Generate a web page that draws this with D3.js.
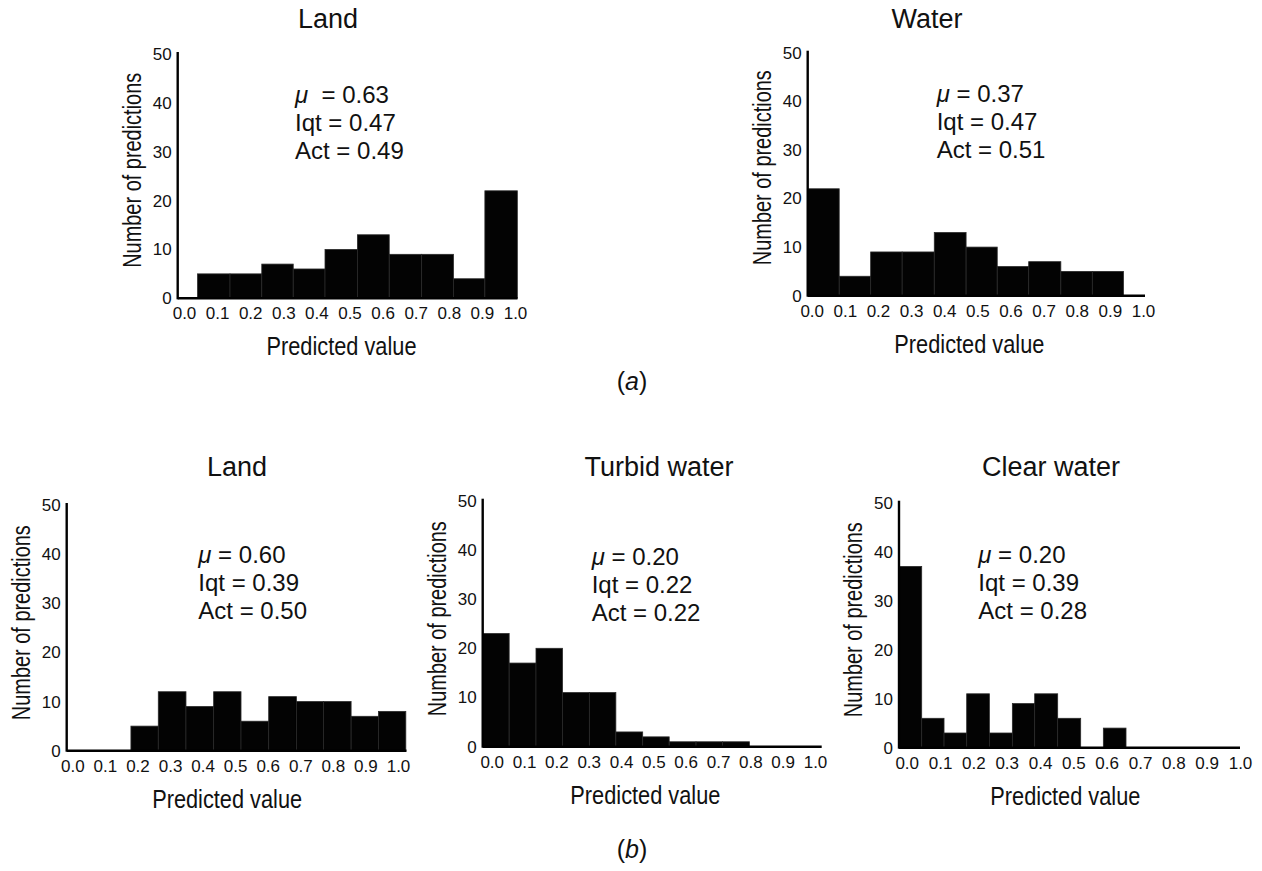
<!DOCTYPE html>
<html>
<head>
<meta charset="utf-8">
<script src="https://cdn.jsdelivr.net/npm/d3@7"></script>
<style>
  html, body { margin: 0; padding: 0; background: #fff; }
  svg { display: block; font-family: "Liberation Sans", Arial, sans-serif; }
</style>
</head>
<body>
<svg id="chart" width="1262" height="871"></svg>
<script>
// ---------------- data ----------------
const panelTitles = ["Land", "Water", "Land", "Turbid water", "Clear water"];
const xTickValues = [0, 0.1, 0.2, 0.3, 0.4, 0.5, 0.6, 0.7, 0.8, 0.9, 1.0];
const yTickValues = [0, 10, 20, 30, 40, 50];

// histogram counts (10 bins each)
const landA_counts   = [5, 5, 7, 6, 10, 13, 9, 9, 4, 22];
const waterA_counts  = [22, 4, 9, 9, 13, 10, 6, 7, 5, 5];
const landB_counts   = [5, 12, 9, 12, 6, 11, 10, 10, 7, 8];
const turbidB_counts = [23, 17, 20, 11, 11, 3, 2, 1, 1, 1];
const clearB_counts  = [37, 6, 3, 11, 3, 9, 11, 6, 0, 4];

// bin edges (predicted value)
const landA_edges   = [0.041, 0.139, 0.235, 0.330, 0.426, 0.524, 0.620, 0.718, 0.814, 0.909, 1.007];
const waterA_edges  = [-0.012, 0.083, 0.178, 0.273, 0.370, 0.466, 0.560, 0.655, 0.752, 0.847, 0.941];
const landB_edges   = [0.180, 0.264, 0.349, 0.434, 0.518, 0.603, 0.688, 0.771, 0.856, 0.940, 1.024];
const turbidB_edges = [-0.028, 0.054, 0.137, 0.219, 0.302, 0.384, 0.467, 0.549, 0.632, 0.714, 0.797];
const clearB_edges  = [-0.023, 0.045, 0.112, 0.180, 0.248, 0.317, 0.384, 0.453, 0.522, 0.590, 0.658];

// statistics
const statMu  = ["0.63", "0.37", "0.60", "0.20", "0.20"];
const statIqt = ["0.47", "0.47", "0.39", "0.22", "0.39"];
const statAct = ["0.49", "0.51", "0.50", "0.22", "0.28"];
const muSpacer = [" \u00a0= ", " = ", " = ", " = ", " = "];

const subLabels = ["a", "b"];

const countsList = [landA_counts, waterA_counts, landB_counts, turbidB_counts, clearB_counts];
const edgesList  = [landA_edges, waterA_edges, landB_edges, turbidB_edges, clearB_edges];

// ---------------- layout ----------------
const layout = [
  { axisX: 177.7, y0: 298.3, y50: 54.0,  x0: 184.0, x1: 515.0, axisEnd: 517.5, statX: 295.0, statTop: 195.6, titleX: 328, titleY: 28 },
  { axisX: 807.7, y0: 295.7, y50: 52.7,  x0: 811.7, x1: 1143.0, axisEnd: 1145.0, statX: 936.7, statTop: 194.0, titleX: 927, titleY: 28 },
  { axisX: 66.7,  y0: 750.7, y50: 505.0, x0: 72.3,  x1: 398.0, axisEnd: 406.5, statX: 198.3, statTop: 187.4, titleX: 237, titleY: 476 },
  { axisX: 482.7, y0: 746.7, y50: 500.7, x0: 491.7, x1: 815.0, axisEnd: 821.7, statX: 591.7, statTop: 181.7, titleX: 659, titleY: 476 },
  { axisX: 899.0, y0: 747.7, y50: 502.7, x0: 906.7, x1: 1240.0, axisEnd: 1240.0, statX: 978.3, statTop: 184.4, titleX: 1051, titleY: 476 }
];
const subLayout = [ { x: 632, y: 390 }, { x: 632, y: 858 } ];

const svg = d3.select("#chart");
svg.append("rect").attr("width", 1262).attr("height", 871).attr("fill", "#fff");

layout.forEach((L, i) => {
  const g = svg.append("g");
  const x = d3.scaleLinear().domain([0, 1]).range([L.x0, L.x1]);
  const y = d3.scaleLinear().domain([0, 50]).range([L.y0, L.y50]);

  const counts = countsList[i];
  const edges = edgesList[i];
  const bins = counts.map((c, k) => ({ x0: edges[k], x1: edges[k + 1], c }));

  // bars
  g.selectAll("rect.bar").data(bins).enter().append("rect")
    .attr("class", "bar")
    .attr("x", d => x(d.x0))
    .attr("width", d => x(d.x1) - x(d.x0))
    .attr("y", d => y(d.c))
    .attr("height", d => y(0) - y(d.c))
    .attr("fill", "#030303")
    .attr("stroke", "#2a2a2a")
    .attr("stroke-width", 0.8);

  // axis lines
  g.append("line").attr("x1", L.axisX).attr("x2", L.axisX)
    .attr("y1", y(0) + 1).attr("y2", y(50) - 2)
    .attr("stroke", "#000").attr("stroke-width", 2.4);
  g.append("line").attr("x1", L.axisX).attr("x2", L.axisEnd)
    .attr("y1", y(0)).attr("y2", y(0))
    .attr("stroke", "#000").attr("stroke-width", 2.4);

  // y axis tick labels
  const yAxis = d3.axisLeft(y).tickValues(yTickValues).tickSize(0).tickPadding(0).tickFormat(d3.format("d"));
  const gy = g.append("g").attr("transform", `translate(${L.axisX - 6},0)`).call(yAxis);
  gy.select(".domain").remove();
  gy.selectAll("text").attr("font-size", 17).attr("fill", "#111")
    .attr("font-family", "'Liberation Sans', Arial, sans-serif");

  // x axis tick labels
  const xAxis = d3.axisBottom(x).tickValues(xTickValues).tickSize(0).tickPadding(0).tickFormat(d3.format(".1f"));
  const gx = g.append("g").attr("transform", `translate(0,${L.y0 + 9})`).call(xAxis);
  gx.select(".domain").remove();
  gx.selectAll("text").attr("font-size", 17).attr("fill", "#111")
    .attr("font-family", "'Liberation Sans', Arial, sans-serif");

  // axis labels
  g.append("text")
    .attr("x", x(0.5) - 8).attr("y", L.y0 + 57)
    .attr("text-anchor", "middle")
    .attr("font-size", 25)
    .attr("textLength", 150).attr("lengthAdjust", "spacingAndGlyphs")
    .attr("fill", "#111")
    .text("Predicted value");

  g.append("text")
    .attr("transform", `translate(${L.axisX - 37},${L.y0 - 128}) rotate(-90)`)
    .attr("text-anchor", "middle")
    .attr("font-size", 25)
    .attr("textLength", 195).attr("lengthAdjust", "spacingAndGlyphs")
    .attr("fill", "#111")
    .text("Number of predictions");

  // stats text
  const st = g.append("g").attr("font-size", 24).attr("fill", "#111");
  const b0 = L.y0 - L.statTop;
  const t1 = st.append("text").attr("x", L.statX).attr("y", b0);
  t1.append("tspan").attr("font-style", "italic").text("\u03bc");
  t1.append("tspan").text(muSpacer[i] + statMu[i]);
  st.append("text").attr("x", L.statX).attr("y", b0 + 28).text("Iqt = " + statIqt[i]);
  st.append("text").attr("x", L.statX).attr("y", b0 + 56).text("Act = " + statAct[i]);

  // title
  g.append("text")
    .attr("x", L.titleX).attr("y", L.titleY)
    .attr("text-anchor", "middle")
    .attr("font-size", 27)
    .attr("fill", "#111")
    .text(panelTitles[i]);
});

// sub-figure labels
subLayout.forEach((s, i) => {
  const t = svg.append("text").attr("x", s.x).attr("y", s.y)
    .attr("text-anchor", "middle").attr("font-size", 25).attr("fill", "#111");
  t.append("tspan").text("(");
  t.append("tspan").attr("font-style", "italic").text(subLabels[i]);
  t.append("tspan").text(")");
});
</script>
</body>
</html>
